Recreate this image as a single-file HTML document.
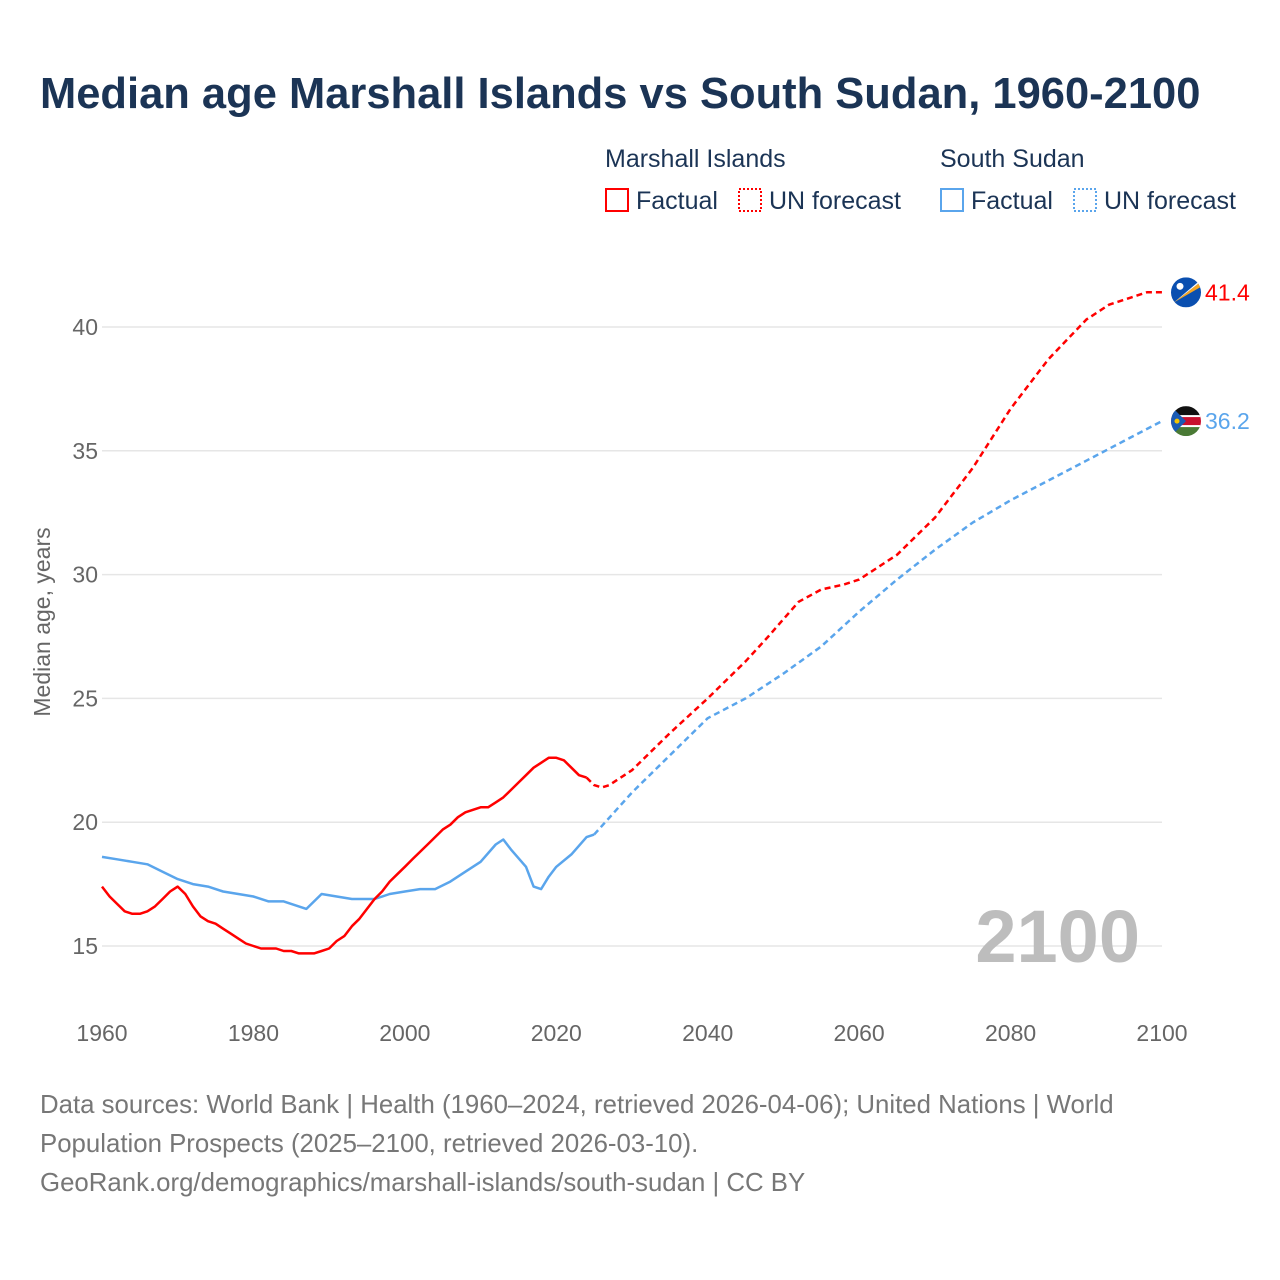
<!DOCTYPE html>
<html><head><meta charset="utf-8"><style>
body{margin:0;background:#fff;font-family:"Liberation Sans",sans-serif;}
#wrap{position:relative;width:1280px;height:1280px;overflow:hidden;}
.t{position:absolute;white-space:nowrap;}
</style></head><body>
<div id="wrap">
<div class="t" style="left:40px;top:70px;font-size:43.5px;font-weight:bold;color:#1b3455;">Median age Marshall Islands vs South Sudan, 1960-2100</div>
<svg id="svg" width="1280" height="1280" style="position:absolute;left:0;top:0"></svg>
<div class="t" style="left:40px;top:1086px;font-size:25.8px;line-height:39px;color:#777;">Data sources: World Bank | Health (1960–2024, retrieved 2026-04-06); United Nations | World<br>Population Prospects (2025–2100, retrieved 2026-03-10).<br>GeoRank.org/demographics/marshall-islands/south-sudan | CC BY</div>
</div>
<script>
const mhYears=[1960,1961,1962,1963,1964,1965,1966,1967,1968,1969,1970,1971,1972,1973,1974,1975,1976,1977,1978,1979,1980,1981,1982,1983,1984,1985,1986,1987,1988,1989,1990,1991,1992,1993,1994,1995,1996,1997,1998,1999,2000,2001,2002,2003,2004,2005,2006,2007,2008,2009,2010,2011,2012,2013,2014,2015,2016,2017,2018,2019,2020,2021,2022,2023,2024];
const mhValues=[17.4,17.0,16.7,16.4,16.3,16.3,16.4,16.6,16.9,17.2,17.4,17.1,16.6,16.2,16.0,15.9,15.7,15.5,15.3,15.1,15.0,14.9,14.9,14.9,14.8,14.8,14.7,14.7,14.7,14.8,14.9,15.2,15.4,15.8,16.1,16.5,16.9,17.2,17.6,17.9,18.2,18.5,18.8,19.1,19.4,19.7,19.9,20.2,20.4,20.5,20.6,20.6,20.8,21.0,21.3,21.6,21.9,22.2,22.4,22.6,22.6,22.5,22.2,21.9,21.8];
const mhFcYears=[2024,2025,2026,2027,2028,2030,2035,2040,2045,2048,2050,2052,2055,2058,2060,2065,2070,2075,2080,2085,2090,2093,2096,2098,2100];
const mhFcValues=[21.8,21.5,21.4,21.5,21.7,22.1,23.6,25.0,26.5,27.5,28.2,28.9,29.4,29.6,29.8,30.8,32.3,34.3,36.7,38.7,40.3,40.9,41.2,41.4,41.4];
const ssYears=[1960,1962,1964,1966,1968,1970,1972,1974,1976,1978,1980,1982,1984,1987,1989,1991,1993,1996,1998,2000,2002,2004,2006,2008,2010,2012,2013,2014,2016,2017,2018,2019,2020,2022,2024,2025];
const ssValues=[18.6,18.5,18.4,18.3,18.0,17.7,17.5,17.4,17.2,17.1,17.0,16.8,16.8,16.5,17.1,17.0,16.9,16.9,17.1,17.2,17.3,17.3,17.6,18.0,18.4,19.1,19.3,18.9,18.2,17.4,17.3,17.8,18.2,18.7,19.4,19.5];
const ssFcYears=[2025,2030,2035,2040,2045,2050,2055,2060,2065,2070,2075,2080,2085,2090,2095,2100];
const ssFcValues=[19.5,21.2,22.7,24.2,25.0,26.0,27.1,28.5,29.8,31.0,32.1,33.0,33.8,34.6,35.4,36.2];
const xTicks=[1960,1980,2000,2020,2040,2060,2080,2100];
const yTicks=[15,20,25,30,35,40];

const svg=document.getElementById('svg');const NS='http://www.w3.org/2000/svg';
const X=y=>102+(y-1960)*(1060/140);
const Y=v=>946-(v-15)*(619/25);
function mk(t,a,p){const e=document.createElementNS(NS,t);for(const k in a)e.setAttribute(k,a[k]);(p||svg).appendChild(e);return e;}
yTicks.forEach(v=>{
  const l=mk('line',{x1:102,x2:1162,y1:Y(v),y2:Y(v),stroke:'#e6e6e6','stroke-width':1.5});
  
  
  const t=mk('text',{x:98,y:Y(v)+8,'text-anchor':'end','font-size':23,fill:'#666','font-family':'Liberation Sans'});t.textContent=v;
  
  
});
xTicks.forEach(v=>{
  const t=mk('text',{x:X(v),y:1041,'text-anchor':'middle','font-size':23,fill:'#666','font-family':'Liberation Sans'});t.textContent=v;
  
  
});
const yt=mk('text',{x:0,y:0,transform:'translate(50,622) rotate(-90)','text-anchor':'middle','font-size':23,fill:'#666','font-family':'Liberation Sans'});yt.textContent='Median age, years';


const yr=mk('text',{x:1140,y:962,'text-anchor':'end','font-size':74,'font-weight':'bold',fill:'#bdbdbd','font-family':'Liberation Sans'});yr.textContent='2100';


function line(xs,vs,col,dash,name){
  const d=xs.map((y,i)=>(i?'L':'M')+X(y).toFixed(1)+','+Y(vs[i]).toFixed(1)).join('');
  const p=mk('path',{d:d,fill:'none',stroke:col,'stroke-width':2.5,'stroke-linejoin':'round','stroke-dasharray':dash?'6,4':'none'});
  
  
}
line(ssYears,ssValues,'#5aa5ec',false,'south-sudan-factual-line');
line(ssFcYears,ssFcValues,'#5aa5ec',true,'south-sudan-forecast-line');
line(mhYears,mhValues,'#ff0000',false,'marshall-factual-line');
line(mhFcYears,mhFcValues,'#ff0000',true,'marshall-forecast-line');
function flag(v,kind){
  const cx=1186,cy=Y(v);
  const g=mk('g',{});
  
  
  const cp=mk('clipPath',{id:'c'+kind},g);mk('circle',{cx:cx,cy:cy,r:15},cp);
  const gg=mk('g',{'clip-path':'url(#c'+kind+')'},g);
  if(kind==='mh'){
    mk('rect',{x:cx-15,y:cy-15,width:30,height:30,fill:'#0a4fb0'},gg);
    mk('polygon',{points:`${cx-12},${cy+10} ${cx+14},${cy-10} ${cx+14},${cy-5}`,fill:'#f5a623'},gg);
    mk('polygon',{points:`${cx-12},${cy+10} ${cx+14},${cy-12} ${cx+14},${cy-10}`,fill:'#fff'},gg);
    mk('circle',{cx:cx-6,cy:cy-6,r:3.5,fill:'#fff'},gg);
  }else{
    mk('rect',{x:cx-15,y:cy-15,width:30,height:10,fill:'#111'},gg);
    mk('rect',{x:cx-15,y:cy-5,width:30,height:10,fill:'#c8102e'},gg);
    mk('rect',{x:cx-15,y:cy+5,width:30,height:10,fill:'#4a7a35'},gg);
    mk('rect',{x:cx-15,y:cy-6,width:30,height:2,fill:'#fff'},gg);
    mk('rect',{x:cx-15,y:cy+4,width:30,height:2,fill:'#fff'},gg);
    mk('polygon',{points:`${cx-15},${cy-15} ${cx},${cy} ${cx-15},${cy+15}`,fill:'#1a5bb5'},gg);
    mk('circle',{cx:cx-9,cy:cy,r:2.5,fill:'#f5c400'},gg);
  }
  const t=mk('text',{x:1205,y:cy+8,'font-size':23,fill:kind==='mh'?'#ff0000':'#5aa5ec','font-family':'Liberation Sans'});
  t.textContent=v.toFixed(1);
  
  
}
flag(mhFcValues[mhFcValues.length-1],'mh');
flag(ssFcValues[ssFcValues.length-1],'ss');
function leg(x,y,txt,col,dotted,name){
  const r=mk('rect',{x:x+1,y:y+1,width:22,height:22,fill:'none',stroke:col,'stroke-width':2,'stroke-dasharray':dotted?'2,2':'none'});
  
  
  const t=mk('text',{x:x+31,y:y+21,'font-size':25,fill:'#1b3455','font-family':'Liberation Sans'});t.textContent=txt;
  
  
}
function head(x,txt,name){const t=mk('text',{x:x,y:167,'font-size':25,fill:'#1b3455','font-family':'Liberation Sans'});t.textContent=txt;
  
  }
head(605,'Marshall Islands','legend-heading-marshall');
head(940,'South Sudan','legend-heading-south-sudan');
leg(605,188,'Factual','#ff0000',false,'legend-marshall-factual');
leg(738,188,'UN forecast','#ff0000',true,'legend-marshall-forecast');
leg(940,188,'Factual','#5aa5ec',false,'legend-ss-factual');
leg(1073,188,'UN forecast','#5aa5ec',true,'legend-ss-forecast');
</script>
</body></html>
